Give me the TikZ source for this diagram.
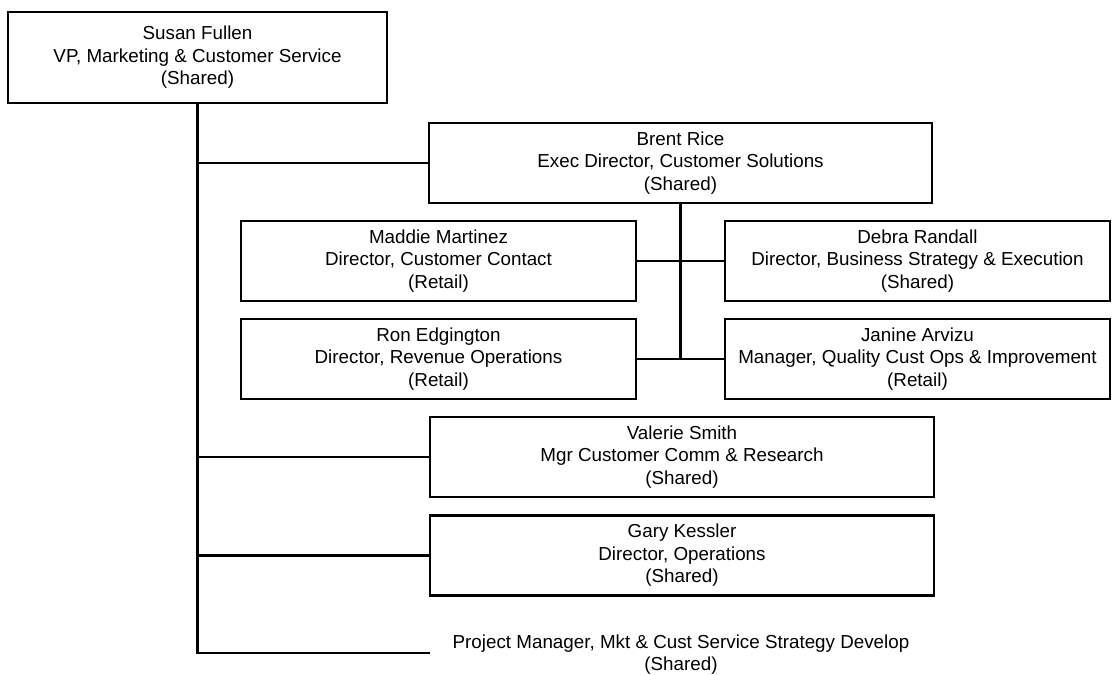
\documentclass[tikz,border=0pt]{standalone}
\usepackage{fontspec}
\setmainfont{Liberation Sans}
\usepackage{tikz}
\usetikzlibrary{calc}

\begin{document}
\begin{tikzpicture}[x=1pt, y=-1pt,
  every node/.style = {font=\fontsize{18.8}{22.5}\selectfont, align=center, inner sep=0pt},
  person/.style = {draw, line width=2.7pt, minimum height=80pt}]
\useasboundingbox (0,0) rectangle (1112,675);

\node [person, minimum width=379pt, minimum height=91pt] (susan) at (197.5,57.5)
  {Susan Fullen\\VP, Marketing \& Customer Service\\(Shared)};
\node [person, minimum width=503pt] (brent) at (680.5,163)
  {Brent Rice\\Exec Director, Customer Solutions\\(Shared)};

\node [person, minimum width=395pt] (maddie) at (438.5,261)
  {Maddie Martinez\\Director, Customer Contact\\(Retail)};
\node [person, minimum width=385pt] (debra) at (917.5,261)
  {Debra Randall\\Director, Business Strategy \& Execution\\(Shared)};
\node [person, minimum width=395pt] (ron) at (438.5,359)
  {Ron Edgington\\Director, Revenue Operations\\(Retail)};
\node [person, minimum width=385pt] (janine) at (917.5,359)
  {Janine Arvizu\\Manager, Quality Cust Ops \& Improvement\\(Retail)};

\node [person, minimum width=504pt] (valerie) at (682,457)
  {Valerie Smith\\Mgr Customer Comm \& Research\\(Shared)};
\node [person, minimum width=504pt] (gary) at (682,555.5)
  {Gary Kessler\\Director, Operations\\(Shared)};
\node (pm) at (681,654.5)
  {Project Manager, Mkt \& Cust Service Strategy Develop\\(Shared)};
\coordinate (pmend) at (430,653);

% reporting lines
\draw [line width=2.7pt] (susan.south) |- (brent.west);
\draw [line width=2.7pt] (susan.south) |- (valerie.west);
\draw [line width=2.7pt] (susan.south) |- (gary.west);
\draw [line width=2.7pt] (susan.south) |- (pmend);

\draw [line width=2.7pt] (brent.south) -- (brent.south |- ron.east);
\draw [line width=2.7pt] (maddie.east) -- (debra.west);
\draw [line width=2.7pt] (ron.east) -- (janine.west);
\end{tikzpicture}
\end{document}
